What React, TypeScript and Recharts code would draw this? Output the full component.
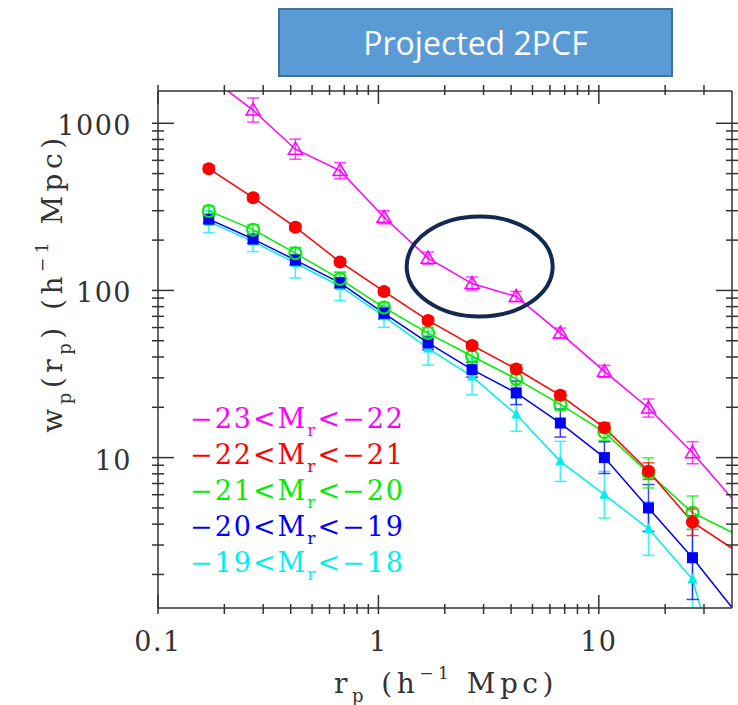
import React from "react";
import { LineChart, Line, XAxis, YAxis, ErrorBar, ReferenceDot } from "recharts";

// projected separation bins (h^-1 Mpc)
const rp = [0.17, 0.27, 0.42, 0.67, 1.06, 1.68, 2.66, 4.22, 6.69, 10.6, 16.8, 26.6, 42.2];

// w_p(r_p) per luminosity bin
const wp23 = [1900, 1200, 700, 521, 274, 156, 110, 92, 55.6, 32.8, 19.8, 10.7, 5.3];
const wp22 = [535, 359, 239, 148, 98.6, 66.2, 46.9, 33.9, 23.6, 15.1, 8.3, 4.11, 2.75];
const wp21 = [299, 231, 167, 117, 79, 55.6, 40.4, 29.6, 20.8, 14.2, 8.1, 4.68, 3.46];
const wp20 = [267, 203, 152, 111, 73, 48.5, 33.6, 24.4, 16.1, 10.0, 5.0, 2.52, 1.17];
const wp19 = [258, 196, 146, 106, 70, 45, 30.6, 18.1, 9.5, 6.0, 3.76, 1.87, 0.22];

// error bar half-widths in dex
const err23 = [0.08, 0.072, 0.06, 0.048, 0.039, 0.036, 0.039, 0.03, 0.03, 0.036, 0.054, 0.066, 0.08];
const err22 = [0.02, 0.02, 0.02, 0.02, 0.02, 0.02, 0.02, 0.025, 0.025, 0.03, 0.05, 0.08, 0.1];
const err21 = [0.03, 0.03, 0.035, 0.04, 0.03, 0.035, 0.04, 0.04, 0.035, 0.05, 0.09, 0.1, 0.12];
const err20 = [0.025, 0.025, 0.03, 0.03, 0.035, 0.04, 0.045, 0.07, 0.084, 0.095, 0.14, 0.25, 0.3];
const err19 = [0.065, 0.06, 0.09, 0.085, 0.065, 0.1, 0.11, 0.1, 0.12, 0.14, 0.16, 0.3, 0.4];

const xLabels = [0.1, 1, 10];
const yLabels = [10, 100, 1000];

const X_DOMAIN: [number, number] = [0.1, 40.2];
const Y_DOMAIN: [number, number] = [1.26, 1560];

// plot box in page pixels (chart margins below add up to this)
const PLOT = { left: 158, top: 91, right: 732, bottom: 608 };

const mantissas = [1, 2, 3, 4, 5, 6, 7, 8, 9];
const xTicks = [0.1, 1, 10].flatMap((d) => mantissas.map((m) => m * d)).filter((v) => v < 40);
const yTicks = [1, 10, 100, 1000].flatMap((d) => mantissas.map((m) => m * d)).filter((v) => v > 1.3 && v < 1500);

const isMajor = (v: number) => Math.abs(Math.log10(v) - Math.round(Math.log10(v))) < 1e-6;
const inDomain = (r: number, w: number) =>
  r >= X_DOMAIN[0] && r <= X_DOMAIN[1] && w >= Y_DOMAIN[0] && w <= Y_DOMAIN[1];

const series = [
  { lo: "23", hi: "22", color: "#ff00ff", wp: wp23, err: err23, marker: "openTri" },
  { lo: "22", hi: "21", color: "#ff0000", wp: wp22, err: err22, marker: "dot" },
  { lo: "21", hi: "20", color: "#00ee00", wp: wp21, err: err21, marker: "ring" },
  { lo: "20", hi: "19", color: "#0000ff", wp: wp20, err: err20, marker: "square" },
  { lo: "19", hi: "18", color: "#00eeee", wp: wp19, err: err19, marker: "tri" },
];

const rowsFor = (wp: number[], err: number[]) =>
  rp.map((r, i) => ({
    r,
    wp: wp[i],
    err: inDomain(r, wp[i])
      ? [wp[i] - wp[i] / Math.pow(10, err[i]), wp[i] * Math.pow(10, err[i]) - wp[i]]
      : null,
  }));

const tickFont = { fontFamily: "DejaVu Serif", fontSize: 27, letterSpacing: 1.5, fill: "#333" };
const titleFont = { fontFamily: "DejaVu Serif", fontSize: 28, letterSpacing: 4.5, fill: "#333" };
const AXIS = "#333";

function makeDot(kind: string, color: string) {
  return (p: any) => {
    const { cx, cy, index, payload } = p;
    if (cx == null || cy == null || !inDomain(payload.r, payload.wp)) return <g key={index} />;
    switch (kind) {
      case "openTri":
        return (
          <polygon key={index} points={`${cx},${cy - 7} ${cx - 7},${cy + 5} ${cx + 7},${cy + 5}`}
            fill="none" stroke={color} strokeWidth={1.5} />
        );
      case "dot":
        return <circle key={index} cx={cx} cy={cy} r={6.5} fill={color} />;
      case "ring":
        return <circle key={index} cx={cx} cy={cy} r={6} fill="none" stroke={color} strokeWidth={2} />;
      case "square":
        return <rect key={index} x={cx - 5.5} y={cy - 5.5} width={11} height={11} fill={color} />;
      default:
        return <polygon key={index} points={`${cx},${cy - 6} ${cx - 5},${cy + 4} ${cx + 5},${cy + 4}`} fill={color} />;
    }
  };
}

const BottomTick = ({ x, y, payload }: any) => {
  const major = isMajor(payload.value);
  return (
    <g>
      <line x1={x} x2={x} y1={y} y2={y - (major ? 19 : 10)} stroke={AXIS} strokeWidth={1.5} />
      {major && xLabels.some((v) => Math.abs(v - payload.value) < 1e-9) && (
        <text x={x} y={y + 37} textAnchor="middle" {...tickFont}>{String(payload.value)}</text>
      )}
    </g>
  );
};

const TopTick = ({ x, y, payload }: any) => (
  <line x1={x} x2={x} y1={y} y2={y + (isMajor(payload.value) ? 19 : 10)} stroke={AXIS} strokeWidth={1.5} />
);

const LeftTick = ({ x, y, payload }: any) => {
  const major = isMajor(payload.value);
  return (
    <g>
      <line x1={x} x2={x + (major ? 22 : 12)} y1={y} y2={y} stroke={AXIS} strokeWidth={1.5} />
      {major && yLabels.includes(Math.round(payload.value)) && (
        <text x={x - 20} y={y + 12} textAnchor="end" {...tickFont}>{String(Math.round(payload.value))}</text>
      )}
    </g>
  );
};

const RightTick = ({ x, y, payload }: any) => (
  <line x1={x} x2={x - (isMajor(payload.value) ? 22 : 12)} y1={y} y2={y} stroke={AXIS} strokeWidth={1.5} />
);

export default function App() {
  return (
    <div style={{ position: "absolute", left: 0, top: 0, width: 738, height: 705, background: "#fff" }}>
      <svg width={0} height={0} style={{ position: "absolute" }}>
        <defs>
          <clipPath id="plot-clip" clipPathUnits="userSpaceOnUse">
            <rect x={PLOT.left} y={PLOT.top} width={PLOT.right - PLOT.left} height={PLOT.bottom - PLOT.top} />
          </clipPath>
        </defs>
      </svg>
      <LineChart width={738} height={705} margin={{ top: 0, right: 0, bottom: 0, left: 0 }}>
        <XAxis xAxisId="b" type="number" scale="log" dataKey="r" domain={X_DOMAIN} allowDataOverflow
          ticks={xTicks} interval={0} height={705 - PLOT.bottom} tickLine={false} tickMargin={0} tick={<BottomTick />}
          axisLine={{ stroke: AXIS, strokeWidth: 1.5 }} />
        <XAxis xAxisId="t" orientation="top" type="number" scale="log" dataKey="r" domain={X_DOMAIN} allowDataOverflow
          ticks={xTicks} interval={0} height={PLOT.top} tickLine={false} tickMargin={0} tick={<TopTick />}
          axisLine={{ stroke: AXIS, strokeWidth: 1.5 }} />
        <YAxis yAxisId="l" type="number" scale="log" domain={Y_DOMAIN} allowDataOverflow
          ticks={yTicks} interval={0} width={PLOT.left} tickLine={false} tickMargin={0} tick={<LeftTick />}
          axisLine={{ stroke: AXIS, strokeWidth: 1.5 }} />
        <YAxis yAxisId="r" orientation="right" type="number" scale="log" domain={Y_DOMAIN} allowDataOverflow
          ticks={yTicks} interval={0} width={738 - PLOT.right} tickLine={false} tickMargin={0} tick={<RightTick />}
          axisLine={{ stroke: AXIS, strokeWidth: 1.5 }} />
        {[...series].reverse().map((s) => (
          <Line key={s.lo} data={rowsFor(s.wp, s.err)} dataKey="wp" xAxisId="b" yAxisId="l" type="linear"
            stroke={s.color} strokeWidth={1.5} dot={makeDot(s.marker, s.color)} activeDot={false}
            clipPath="url(#plot-clip)" isAnimationActive={false}>
            <ErrorBar dataKey="err" direction="y" width={6} stroke={s.color} strokeWidth={1.5}
              strokeOpacity={0.75} clipPath="url(#plot-clip)" isAnimationActive={false} />
          </Line>
        ))}
        <ReferenceDot xAxisId="b" yAxisId="l" x={2.88} y={139} r={1} ifOverflow="visible"
          shape={(p: any) => (
            <ellipse cx={p.cx} cy={p.cy} rx={73} ry={50} fill="none" stroke="#13294f" strokeWidth={4} />
          )} />
      </LineChart>

      <svg width={738} height={705} style={{ position: "absolute", left: 0, top: 0, pointerEvents: "none" }}>
        {/* axis titles */}
        <text x={446} y={693} textAnchor="middle" {...titleFont}>
          r<tspan fontSize={18} dy={9}>p</tspan>
          <tspan dy={-9}> (h</tspan>
          <tspan fontSize={17} dy={-14}>−1</tspan>
          <tspan dy={14}>  Mpc)</tspan>
        </text>
        <text transform="translate(62,283) rotate(-90)" textAnchor="middle" {...titleFont}>
          w<tspan fontSize={18} dy={9}>p</tspan>
          <tspan dy={-9}>(r</tspan>
          <tspan fontSize={18} dy={9}>p</tspan>
          <tspan dy={-9}>) (h</tspan>
          <tspan fontSize={17} dy={-14}>−1</tspan>
          <tspan dy={14}>  Mpc)</tspan>
        </text>
        {/* legend */}
        {series.map((s, i) => (
          <text key={s.lo} x={190} y={428 + i * 36} fill={s.color} fontFamily="DejaVu Serif" fontSize={27}
            letterSpacing={2}>
            −{s.lo}&lt;M<tspan fontSize={17} dy={8}>r</tspan>
            <tspan dy={-8}>&lt;−{s.hi}</tspan>
          </text>
        ))}
      </svg>

      <div style={{
        position: "absolute", left: 278, top: 8, width: 395, height: 69, boxSizing: "border-box",
        background: "#5b9bd5", border: "2px solid #41719c", color: "#fff", display: "flex",
        alignItems: "center", justifyContent: "center", fontFamily: "Open Sans", fontSize: 32,
      }}>
        Projected 2PCF
      </div>
    </div>
  );
}
